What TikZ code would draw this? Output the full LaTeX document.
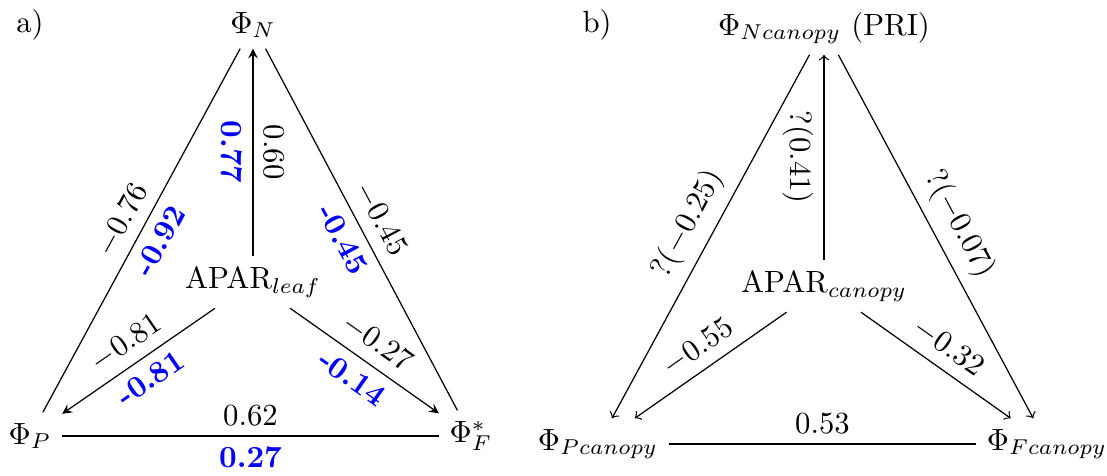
\documentclass[tikz,border=0pt]{standalone}
\usepackage{xcolor}
\usepackage{tikz}
\usetikzlibrary{arrows, positioning}

\tikzset{
  blab/.style={text=blue, font=\bfseries},
}

\begin{document}
\begin{tikzpicture}[x=0.3257pt, y=-0.3257pt]
  \useasboundingbox (0,0) rectangle (1107,475);

  % panel a
  \node (tagA) at (30,25) {a)};
  \node (N) at (253,25) {$\Phi_N$};
  \node (P) at (30,436) {$\Phi_P$};
  \node (F) at (471,436) {$\Phi^*_F$};
  \node (apar) at (253,282) {APAR$_{leaf}$};

  \path[-stealth]
  (P) edge[-, sloped] node[above] {$-0.76$} node[below, blab] {-0.92} (N)
  (N) edge[-, sloped] node[above] {$-0.45$} node[below, blab] {-0.45} (F)
  (N) edge[stealth-] node[above, rotate=-90] {$0.60$} node[below, rotate=-90, blab] {0.77} (apar)
  (apar) edge[sloped] node[above] {$-0.81$} node[below, blab] {-0.81} (P)
  (apar) edge[sloped] node[above] {$-0.27$} node[below, blab] {-0.14} (F)
  (P) edge[-] node[above] {$0.62$} node[below, blab] {0.27} (F);

  % panel b
  \node (tagB) at (597,25) {b)};
  \node (Nc) at (824,28) {$\Phi_{Ncanopy}$ (PRI)};
  \node (Pc) at (598,444) {$\Phi_{Pcanopy}$};
  \node (Fc) at (1047,444) {$\Phi_{Fcanopy}$};
  \node (aparc) at (824,286) {APAR$_{canopy}$};

  \path[->]
  (Nc) edge[sloped] node[above] {$?(-0.25)$} (Pc)
  (Nc) edge[sloped] node[above] {$?(-0.07)$} (Fc)
  (aparc) edge node[below, rotate=-90] {$?(0.41)$} (Nc)
  (aparc) edge[sloped] node[above] {$-0.55$} (Pc)
  (aparc) edge[sloped] node[above] {$-0.32$} (Fc)
  (Pc) edge[-] node[above] {$0.53$} (Fc);

\end{tikzpicture}
\end{document}
